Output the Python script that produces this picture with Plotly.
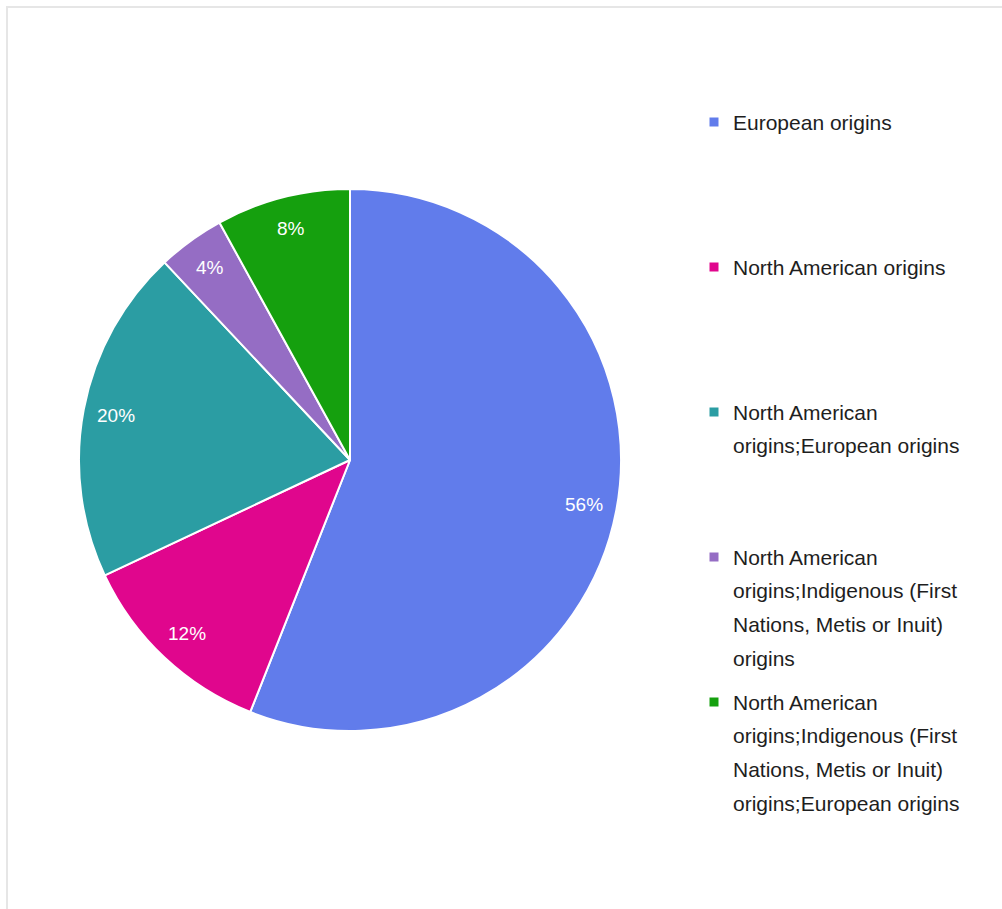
import math
import textwrap
import plotly.graph_objects as go

# Share of respondents by reported ethnic origin
categories = [
    "European origins",
    "North American origins",
    "North American origins;European origins",
    "North American origins;Indigenous (First Nations, Metis or Inuit) origins",
    "North American origins;Indigenous (First Nations, Metis or Inuit) origins;European origins",
]
shares = [56, 12, 20, 4, 8]
colors = ["#617CEB", "#E0068D", "#2B9DA3", "#956DC4", "#15A00E"]

W, H = 1002, 909
FONT = "Liberation Sans, Arial, sans-serif"

# pie placement (paper fractions)
dom_x = [0.0788, 0.6198]
dom_y = [0.1958, 0.7921]

fig = go.Figure(
    go.Pie(
        labels=categories,
        values=shares,
        sort=False,
        direction="clockwise",
        rotation=0,
        marker=dict(colors=colors, line=dict(color="white", width=2)),
        textinfo="none",
        hoverinfo="label+percent",
        showlegend=False,
        domain=dict(x=dom_x, y=dom_y),
    )
)

# percentage labels placed along each slice's mid-angle
cx = (dom_x[0] + dom_x[1]) / 2 * W
cy = (dom_y[0] + dom_y[1]) / 2 * H
r = min((dom_x[1] - dom_x[0]) * W, (dom_y[1] - dom_y[0]) * H) / 2
total = sum(shares)
start = 0.0
annotations = []
for v in shares:
    frac = v / total
    mid = (start + frac / 2) * 2 * math.pi
    start += frac
    px = cx + 0.88 * r * math.sin(mid)
    py = cy + 0.88 * r * math.cos(mid)
    annotations.append(dict(
        x=px / W, y=py / H, xref="paper", yref="paper",
        text=f"{round(frac * 100)}%", showarrow=False,
        font=dict(family=FONT, size=19, color="white"),
        xanchor="center", yanchor="middle",
    ))

# legend: colour square + wrapped label lines, evenly spaced entries
shapes = []
leg_x_marker = 714
leg_x_text = 731
leg_top = 122
item_gap = 145
line_gap = 33.7
for i, (name, col) in enumerate(zip(categories, colors)):
    y0 = leg_top + i * item_gap
    shapes.append(dict(
        type="rect", xref="paper", yref="paper",
        x0=(leg_x_marker - 4.5) / W, x1=(leg_x_marker + 4.5) / W,
        y0=1 - (y0 - 4.5) / H, y1=1 - (y0 + 4.5) / H,
        fillcolor=col, line=dict(width=0),
    ))
    for j, line in enumerate(textwrap.wrap(name, width=25)):
        annotations.append(dict(
            x=leg_x_text / W, y=1 - (y0 + j * line_gap) / H,
            xref="paper", yref="paper", text=line, showarrow=False,
            font=dict(family=FONT, size=21, color="#1E1E1E"),
            xanchor="left", yanchor="middle",
        ))

# light frame along the top and left edges
shapes.append(dict(
    type="rect", xref="paper", yref="paper",
    x0=7 / W, x1=1.02, y0=-0.02, y1=1 - 7 / H,
    line=dict(color="#E6E6E6", width=2), fillcolor="rgba(0,0,0,0)", layer="below",
))

fig.update_layout(
    width=W, height=H,
    margin=dict(l=0, r=0, t=0, b=0),
    paper_bgcolor="white",
    plot_bgcolor="white",
    annotations=annotations,
    shapes=shapes,
)

fig.write_html("out.html")
